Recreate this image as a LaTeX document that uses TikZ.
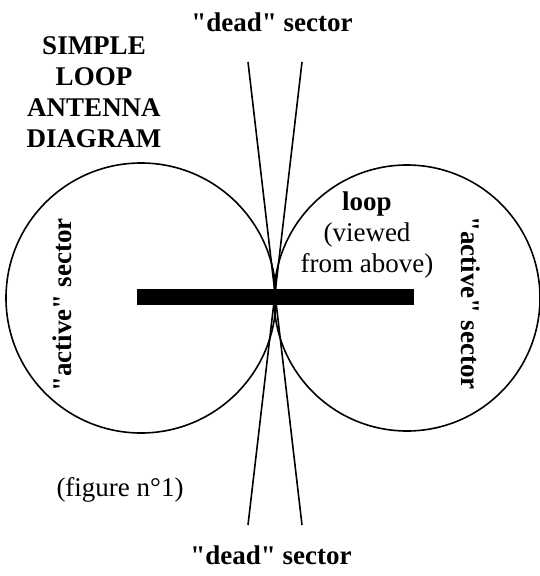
\documentclass[tikz,border=0pt]{standalone}
\usepackage{fontspec}
\setmainfont{Liberation Serif}[Ligatures=TeXOff]
\usetikzlibrary{positioning}

\tikzset{
  lbl/.style={font=\fontsize{27}{31}\selectfont, inner sep=0pt, align=center},
  blbl/.style={lbl, font=\fontsize{27}{31}\selectfont\bfseries}
}

\begin{document}
\begin{tikzpicture}[x=1pt, y=-1pt, line width=1.6pt]
\useasboundingbox (0,0) rectangle (540,576);

% lobes
\coordinate (L) at (141,298);
\coordinate (R) at (407,298);
\draw (L) circle[radius=135];
\draw (R) circle[radius=133];

% the loop, edge on
\fill (137,289) rectangle (414,305);

% dead sector limits
\coordinate (T1) at (248,62);
\coordinate (T2) at (302,62);
\coordinate (B1) at (248,525);
\coordinate (B2) at (302,525);
\draw (T1) -- (B2);
\draw (T2) -- (B1);

\node[blbl] (title) at (94,92) {SIMPLE\\LOOP\\ANTENNA\\DIAGRAM};
\node[blbl] (deadtop) at (272,22) {"dead" sector};
\node[blbl] (deadbot) at (271,555) {"dead" sector};
\node[blbl, rotate=90] (actl) at (62,305) {"active" sector};
\node[blbl, rotate=-90] (actr) at (471,303) {"active" sector};
\node[lbl] (loop) at (367,235) {\textbf{loop}\\(viewed\\from above)};
\node[lbl] (fig) at (120,490) {(figure n°1)};
\end{tikzpicture}
\end{document}
